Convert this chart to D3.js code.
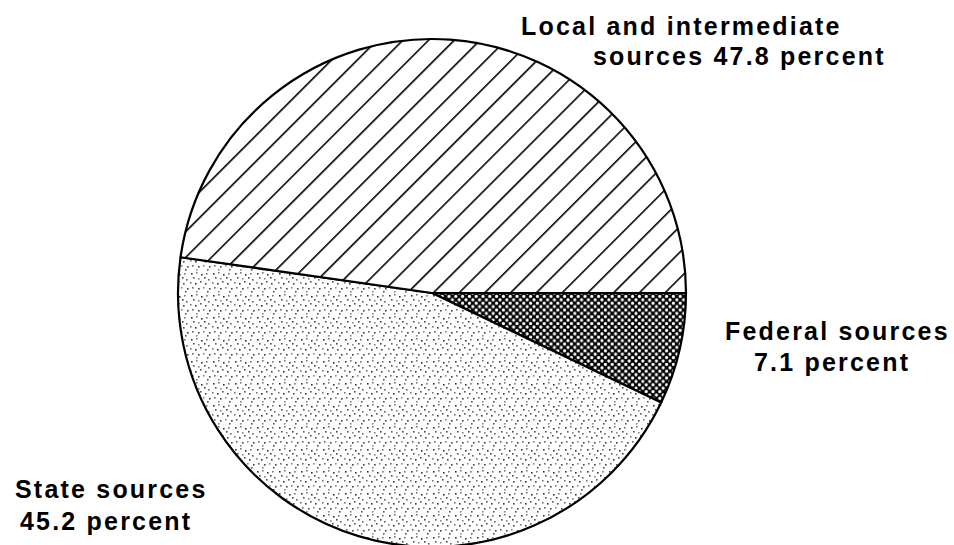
<!DOCTYPE html>
<html>
<head>
<meta charset="utf-8">
<script src="https://cdn.jsdelivr.net/npm/d3@7"></script>
<style>
  body { margin: 0; background: #fff; }
  svg { display: block; }
  .lbl { font-family: "Liberation Sans", Arial, sans-serif; font-weight: bold; font-size: 25px; letter-spacing: 2.2px; fill: #000; }
</style>
</head>
<body>
<svg id="chart"></svg>
<script>
// data
const categories = ["Federal sources", "State sources", "Local and intermediate sources"];
const shares = [7.1, 45.2, 47.8];
const labelLines = [
  ["Federal sources", "7.1 percent"],
  ["State sources", "45.2 percent"],
  ["Local and intermediate", "sources 47.8 percent"]
];

const width = 954;
const height = 545;
const cx = 432, cy = 293, radius = 254;

// where each label line sits (left x, baseline y)
const labelPos = [
  [[725, 340], [754, 371]],
  [[15, 498], [20, 530]],
  [[521, 35], [593, 65]]
];

const svg = d3.select("#chart").attr("width", width).attr("height", height);
const defs = svg.append("defs");

// diagonal hatching for local
const hatch = defs.append("pattern")
  .attr("id", "hatch")
  .attr("patternUnits", "userSpaceOnUse")
  .attr("width", 18.2).attr("height", 18.2)
  .attr("patternTransform", "rotate(45)");
hatch.append("rect").attr("width", 18.2).attr("height", 18.2).attr("fill", "#fff");
hatch.append("line").attr("x1", 0).attr("y1", -1).attr("x2", 0).attr("y2", 20)
  .attr("stroke", "#000").attr("stroke-width", 3.2);

// black with white dots for federal
const p = 6.8;
const dots = defs.append("pattern")
  .attr("id", "dots")
  .attr("patternUnits", "userSpaceOnUse")
  .attr("width", p).attr("height", p);
dots.append("rect").attr("width", p).attr("height", p).attr("fill", "#000");
[[0, 0], [p, 0], [0, p], [p, p], [p / 2, p / 2]].forEach(([x, y]) => {
  dots.append("circle").attr("cx", x).attr("cy", y).attr("r", 1.6).attr("fill", "#fff");
});

// sparse speckle for state
const specks = [
  [1, 2, "#333"], [6, 1, "#777"], [11, 3, "#333"], [16, 2, "#777"],
  [3, 6, "#555"], [8, 7, "#888"], [14, 6, "#444"], [18, 8, "#666"],
  [0, 11, "#777"], [5, 12, "#333"], [10, 10, "#555"], [15, 12, "#444"],
  [2, 16, "#666"], [8, 17, "#444"], [13, 16, "#888"], [19, 17, "#444"],
  [6, 20, "#888"], [17, 20, "#555"]
];
const speck = defs.append("pattern")
  .attr("id", "speck")
  .attr("patternUnits", "userSpaceOnUse")
  .attr("width", 22).attr("height", 22);
speck.append("rect").attr("width", 22).attr("height", 22).attr("fill", "#fff");
speck.selectAll("rect.s").data(specks).join("rect")
  .attr("class", "s")
  .attr("x", d => d[0]).attr("y", d => d[1])
  .attr("width", 1.6).attr("height", 1.6)
  .attr("fill", d => d[2]);

const fills = ["url(#dots)", "url(#speck)", "url(#hatch)"];

const pie = d3.pie()
  .sort(null)
  .startAngle(Math.PI / 2)
  .endAngle(Math.PI / 2 + 2 * Math.PI);

const arc = d3.arc().innerRadius(0).outerRadius(radius);

const g = svg.append("g").attr("transform", `translate(${cx},${cy})`);

g.selectAll("path")
  .data(pie(shares))
  .join("path")
  .attr("d", arc)
  .attr("fill", (d, i) => fills[i])
  .attr("stroke", "#000")
  .attr("stroke-width", 2.2)
  .attr("stroke-linejoin", "round");

// labels
categories.forEach((c, i) => {
  labelLines[i].forEach((line, j) => {
    svg.append("text")
      .attr("class", "lbl")
      .attr("x", labelPos[i][j][0])
      .attr("y", labelPos[i][j][1])
      .text(line);
  });
});
</script>
</body>
</html>
